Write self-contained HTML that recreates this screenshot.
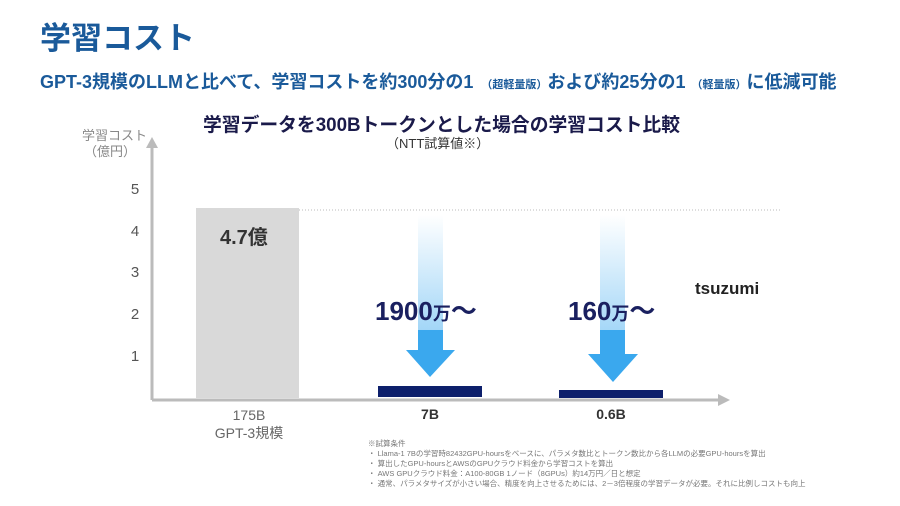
<!DOCTYPE html>
<html><head><meta charset="utf-8"><style>
body{margin:0;width:900px;height:506px;background:#fff;overflow:hidden}
svg{display:block}
text{font-family:"Liberation Sans","Noto Sans CJK JP",sans-serif}
</style></head><body>
<svg width="900" height="506" viewBox="0 0 900 506" xmlns="http://www.w3.org/2000/svg">
<defs>
<linearGradient id="g" x1="0" y1="0" x2="0" y2="1">
<stop offset="0" stop-color="#3aa8ee" stop-opacity="0"/>
<stop offset="1" stop-color="#3aa8ee" stop-opacity="0.55"/>
</linearGradient>
</defs>
<text x="40" y="49" font-size="31" font-weight="bold" fill="#1a5a9a">学習コスト</text>
<text x="40" y="88" font-size="18" font-weight="bold" fill="#1a5a9a">GPT-3規模のLLMと比べて、学習コストを約300分の1<tspan font-size="11" dx="8">（超軽量版）</tspan>および約25分の1<tspan font-size="11" dx="6">（軽量版）</tspan>に低減可能</text>
<text x="203" y="131" font-size="19" font-weight="bold" fill="#1a1a4a" textLength="477" lengthAdjust="spacingAndGlyphs">学習データを300Bトークンとした場合の学習コスト比較</text>
<text x="386" y="148" font-size="13" fill="#333">（NTT試算値※）</text>
<text x="82" y="140" font-size="13" fill="#888">学習コスト</text>
<text x="84" y="156" font-size="13" fill="#888">（億円）</text>
<line x1="152" y1="145" x2="152" y2="400" stroke="#bbb" stroke-width="3"/>
<polygon points="146,148 158,148 152,137" fill="#bbb"/>
<line x1="152" y1="400" x2="720" y2="400" stroke="#bbb" stroke-width="3"/>
<polygon points="718,394 718,406 730,400" fill="#bbb"/>
<g font-size="15" fill="#555" text-anchor="middle">
<text x="135" y="194">5</text><text x="135" y="236">4</text><text x="135" y="277">3</text><text x="135" y="319">2</text><text x="135" y="361">1</text>
</g>
<rect x="196" y="208" width="103" height="190" fill="#d9d9d9"/>
<line x1="299" y1="210" x2="780" y2="210" stroke="#bbb" stroke-dasharray="1,2"/>
<text x="220" y="244" font-size="20" font-weight="bold" fill="#333">4.7億</text>
<rect x="418" y="215" width="25" height="135" fill="url(#g)"/>
<rect x="418" y="330" width="25" height="20" fill="#3aa8ee"/>
<polygon points="406,350 455,350 430,377" fill="#3aa8ee"/>
<rect x="600" y="215" width="25" height="139" fill="url(#g)"/>
<rect x="600" y="330" width="25" height="24" fill="#3aa8ee"/>
<polygon points="588,354 638,354 613,382" fill="#3aa8ee"/>
<rect x="378" y="386" width="104" height="11" fill="#0d1f6b"/>
<rect x="559" y="390" width="104" height="8" fill="#0d1f6b"/>
<text x="375" y="320" font-size="26" font-weight="bold" fill="#1a2060">1900<tspan font-size="18">万</tspan>〜</text>
<text x="568" y="320" font-size="26" font-weight="bold" fill="#1a2060">160<tspan font-size="18">万</tspan>〜</text>
<text x="695" y="294" font-size="17" font-weight="bold" fill="#222">tsuzumi</text>
<g text-anchor="middle" font-size="14">
<text x="249" y="420" fill="#666">175B</text>
<text x="249" y="438" fill="#666">GPT-3規模</text>
<text x="430" y="419" font-weight="bold" fill="#333">7B</text>
<text x="611" y="419" font-weight="bold" fill="#333">0.6B</text>
</g>
<g font-size="7.5" fill="#777">
<text x="368" y="446">※試算条件</text>
<text x="368" y="456">・ Llama-1 7Bの学習時82432GPU-hoursをベースに、パラメタ数比とトークン数比から各LLMの必要GPU-hoursを算出</text>
<text x="368" y="466">・ 算出したGPU-hoursとAWSのGPUクラウド料金から学習コストを算出</text>
<text x="368" y="476">・ AWS GPUクラウド料金：A100-80GB 1ノード（8GPUs）約14万円／日と想定</text>
<text x="368" y="486">・ 通常、パラメタサイズが小さい場合、精度を向上させるためには、2－3倍程度の学習データが必要。それに比例しコストも向上</text>
</g>
</svg>
</body></html>
